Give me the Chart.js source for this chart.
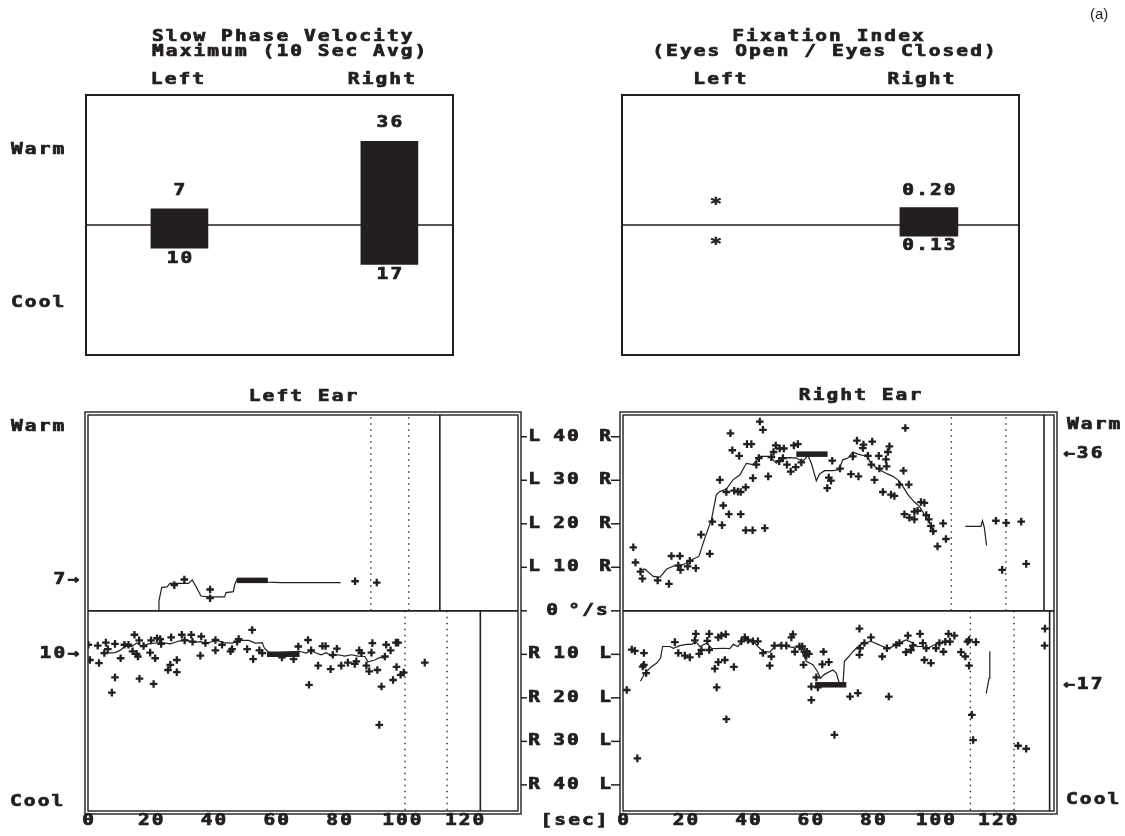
<!DOCTYPE html>
<html><head><meta charset="utf-8">
<script src="https://cdn.jsdelivr.net/npm/chart.js@4.4.1/dist/chart.umd.min.js"></script>
<style>
html,body{margin:0;padding:0;background:#fff;}
#wrap{position:relative;width:1125px;height:836px;overflow:hidden;background:#fff;}
#wrap canvas{position:absolute;left:0;top:0;}
</style></head>
<body><div id="wrap">
<canvas id="c1" width="1125" height="836"></canvas>
<canvas id="c2" width="1125" height="836"></canvas>
<canvas id="c3" width="1125" height="836"></canvas>
<canvas id="c4" width="1125" height="836"></canvas>
</div>
<script>
// ---------- data ----------
const sides = ['Left', 'Right'];
const sidePos = [1, 2];
const spvWarm = [7, 36];
const spvCool = [10, 17];
const fiWarm = [null, 0.20];
const fiCool = [null, 0.13];

const yTickVals = [40, 30, 20, 10];
const xTickVals = [0, 20, 40, 60, 80, 100, 120];

// Left ear, warm (positive)
const lwLineT = [22.4, 22.6, 23.5, 25.2, 26.1, 29.8, 32.0, 33.2, 34.1, 36.0, 38.3, 43.5, 44.0, 46.3, 46.8, 47.4, 57.3, 61.7, 80.5];
const lwLineV = [0, 2.3, 5.4, 5.5, 6.3, 6.3, 6.3, 7.1, 6.0, 3.4, 3.2, 3.2, 4.2, 4.4, 6.1, 7.1, 6.6, 6.5, 6.5];
const lwPtsT = [27.5, 30.7, 38.9, 38.9, 85.1, 92.0];
const lwPtsV = [5.9, 7.2, 4.9, 2.9, 6.8, 6.5];
const lwMaxSpan = [47.4, 57.3];
const lwMaxVal = 7;
const lwDotted = [90.1, 102.2];
const lwSolid = [112.1];

// Left ear, cool (negative)
const lcLineT = [6.5, 8.6, 10.2, 11.8, 14.0, 15.5, 17.1, 19.3, 21.4, 23.5, 26.2, 28.3, 29.9, 31.5, 33.6, 35.8, 37.4, 39.5, 41.1, 43.2, 45.9, 48.6, 51.2, 53.3, 55.5, 56.2, 57.8, 67.4, 69.5, 71.1, 72.7, 74.3, 75.9, 77.5, 79.7, 81.8, 83.9, 86.0, 88.2, 89.2, 91.4, 93.0, 94.6];
const lcLineV = [-9.7, -9.6, -9.1, -8.1, -8.2, -7.4, -8.1, -7.6, -7.4, -7.3, -7.6, -7.1, -6.8, -6.7, -7.3, -7.1, -7.4, -7.1, -6.8, -7.3, -7.4, -6.8, -6.8, -7.4, -7.3, -8.6, -9.7, -9.3, -9.7, -9.1, -9.7, -10.1, -9.6, -10.4, -10.1, -10.4, -10.1, -10.4, -10.5, -11.7, -11.3, -10.7, -10.9];
const lcPtsT = [0.1, 0.6, 3.1, 3.5, 5.7, 5.2, 6.3, 8.6, 7.6, 8.6, 10.4, 11.6, 12.9, 14.2, 14.8, 15.5, 15.9, 16.3, 16.4, 17.7, 19.8, 20.1, 20.9, 21.4, 22.0, 23.0, 23.3, 25.5, 26.2, 26.5, 28.3, 28.3, 29.9, 30.8, 32.9, 33.3, 35.8, 36.1, 37.4, 40.6, 40.6, 42.7, 45.4, 45.9, 47.5, 48.0, 50.7, 52.3, 52.6,
  54.6, 55.5, 61.8, 65.5, 67.0, 70.1, 70.4, 71.1, 73.3, 74.7, 75.7, 77.3, 79.3, 78.0, 80.7, 82.8, 85.0, 85.5, 86.4, 87.1, 88.7, 89.6, 90.6, 90.3, 92.2, 93.5, 92.8, 94.6, 95.0, 96.4, 98.3, 98.1, 98.8, 97.2, 99.6, 100.6, 107.3];
const lcPtsV = [-7.8, -11.3, -8.0, -12.0, -7.3, -9.7, -8.8, -7.6, -18.8, -15.3, -10.9, -7.8, -7.8, -9.3, -5.5, -9.9, -10.5, -6.8, -15.6, -8.1, -9.6, -6.8, -16.8, -10.9, -6.3, -6.5, -7.6, -13.6, -12.4, -6.1, -14.1, -11.3, -5.5, -6.8, -5.5, -7.1, -10.3, -5.9, -7.4, -9.1, -6.7, -7.8, -9.3, -8.8, -7.1, -6.5, -8.8, -4.4, -11.1,
  -9.1, -9.7, -10.7, -11.1, -8.2, -6.7, -17.0, -9.1, -12.6, -8.1, -8.1, -13.4, -8.7, -10.1, -12.6, -11.9, -12.2, -11.6, -9.1, -9.7, -12.6, -13.9, -7.4, -9.6, -13.6, -17.4, -26.2, -10.5, -7.8, -9.1, -12.9, -7.3, -7.3, -15.9, -14.7, -14.2, -11.9];
const lcMaxSpan = [57.0, 67.4];
const lcMaxVal = -10;
const lcDotted = [101.0, 114.4];
const lcSolid = [125.0];

// Right ear, warm (positive)
const rwLineT = [5.4, 7.0, 9.7, 11.8, 14.0, 16.6, 19.3, 20.9, 22.5, 24.3, 26.2, 28.3, 29.9, 31.0, 33.1, 35.2, 37.4, 39.5, 41.6, 43.8, 47.0, 49.1, 51.2, 53.3, 55.5, 57.6, 59.2, 60.3, 61.9, 62.9, 64.5, 67.2, 69.1, 70.4, 72.0, 73.6, 75.2, 76.8, 78.4, 78.9, 80.5, 82.1, 84.2, 86.4, 88.0, 89.6, 91.2, 93.3, 94.9, 96.5, 98.6, 99.7];
const rwLineV = [9.4, 9.6, 7.9, 7.7, 9.6, 10.4, 10.6, 11.3, 11.9, 12.5, 16.7, 20.9, 26.7, 27.4, 28.0, 30.1, 31.2, 33.9, 33.6, 35.5, 35.5, 33.9, 35.1, 35.2, 35.1, 34.3, 35.7, 33.9, 29.9, 31.4, 32.2, 32.2, 32.4, 34.7, 35.1, 36.5, 36.0, 35.7, 35.9, 34.3, 33.2, 32.4, 31.6, 30.9, 30.1, 28.6, 26.7, 25.0, 24.0, 22.1, 19.8, 17.9];
const rwLine2T = [109.6, 114.6, 115.1, 115.7, 116.4];
const rwLine2V = [19.4, 19.4, 20.7, 19.1, 15.0];
const rwPtsT = [3.3, 4.0, 5.6, 6.2, 11.1, 14.7, 15.5, 18.2, 17.7, 18.4, 20.7, 21.4, 23.3, 25.0, 27.8, 28.6, 31.0, 31.7, 32.1, 33.1, 33.9, 34.4, 35.0, 35.6, 36.8, 37.2, 37.7, 37.7, 39.3, 39.3, 39.7, 41.1, 41.5, 41.6, 42.7, 43.5, 43.8, 44.8, 45.4, 46.5, 47.5, 48.2, 48.9, 50.2, 51.5, 50.0, 51.2, 52.5, 53.7, 55.3, 54.7, 56.0, 57.1,
  67.0, 65.4, 65.9, 66.6, 69.5, 73.0, 75.4, 73.6, 74.9, 76.8, 77.0, 79.8, 78.4, 79.5, 80.5, 81.9, 82.1, 84.2, 84.8, 85.3, 84.4, 83.2, 85.8, 86.9, 89.8, 88.5, 90.4, 91.5, 90.1, 91.7, 93.3, 93.3, 94.3, 95.4, 96.5, 97.1, 97.9, 98.6, 99.3, 102.5, 100.7, 103.4,
  119.4, 121.4, 122.7, 127.5, 129.1];
const rwPtsV = [14.6, 11.1, 9.0, 7.4, 7.0, 6.2, 12.6, 12.6, 10.4, 9.4, 10.2, 11.5, 9.8, 17.5, 13.1, 20.5, 30.1, 19.7, 24.2, 27.3, 22.2, 40.8, 36.9, 27.6, 27.4, 35.6, 27.3, 22.2, 28.4, 18.5, 38.3, 38.3, 18.5, 30.5, 33.6, 35.1, 43.5, 41.6, 19.0, 30.9, 35.3, 36.5, 38.0, 37.3, 37.3, 34.4, 35.1, 33.6, 32.0, 33.0, 38.0, 38.3, 34.1,
  34.5, 28.2, 30.6, 29.9, 32.7, 31.4, 30.9, 35.5, 39.1, 37.4, 38.2, 38.9, 35.6, 33.6, 30.1, 35.6, 32.7, 34.8, 36.5, 37.8, 33.2, 27.3, 26.7, 26.4, 32.2, 29.0, 42.0, 29.0, 22.2, 21.4, 21.0, 22.8, 23.0, 25.0, 24.8, 22.0, 21.0, 19.5, 18.3, 20.1, 14.8, 16.5,
  20.7, 9.4, 20.2, 20.5, 10.8];
const rwMaxSpan = [55.5, 65.5];
const rwMaxVal = 36;
const rwDotted = [105.1, 122.6];
const rwSolid = [134.8];

// Right ear, cool (negative)
const rcLineT = [5.6, 7.0, 9.2, 10.8, 12.0, 12.7, 15.0, 16.1, 18.2, 20.3, 21.9, 23.3, 24.6, 26.9, 28.3, 29.9, 32.1, 34.2, 35.3, 36.8, 38.2, 39.5, 41.1, 42.2, 43.2, 44.8, 47.0, 48.5, 50.2, 52.3, 54.4, 56.5, 58.7, 60.8, 62.4, 63.2, 64.5, 67.2, 68.3, 69.5, 70.4, 70.9, 72.3, 73.6, 75.5, 77.3, 79.4, 81.6, 83.2, 85.1, 86.9, 89.0, 90.6, 92.8, 94.3, 95.9, 97.5, 99.7, 101.8, 103.9];
const rcLineV = [-16.2, -14.3, -12.8, -12.0, -10.9, -8.2, -8.2, -8.6, -8.0, -7.7, -7.7, -7.1, -8.2, -7.4, -8.6, -8.7, -8.6, -8.7, -7.7, -8.2, -6.7, -6.3, -7.1, -7.4, -8.2, -9.3, -9.5, -8.2, -7.7, -8.2, -8.4, -8.2, -11.6, -12.4, -14.1, -15.5, -14.6, -13.6, -14.3, -17.2, -17.4, -11.6, -10.5, -9.4, -8.0, -7.4, -7.0, -7.7, -8.2, -8.6, -8.0, -7.2, -6.7, -7.4, -8.2, -8.2, -8.6, -7.8, -7.4, -6.7];
const rcLine2T = [116.3, 117.2, 117.4, 117.5];
const rcLine2V = [-19.0, -15.5, -12.5, -9.3];
const rcPtsT = [1.2, 2.8, 3.8, 6.7, 6.3, 6.7, 7.4, 4.6, 16.6, 17.7, 19.8, 21.4, 23.3, 23.0, 27.6, 27.0, 27.6, 25.1, 24.4, 29.4, 30.0, 30.5, 30.5, 31.5, 32.9, 32.6, 33.1, 35.5, 37.9, 39.0, 40.0, 41.6, 43.2, 44.8, 47.0, 47.5, 48.5, 50.7, 52.3, 53.9, 54.4, 55.0, 56.5, 58.1, 58.7, 60.3, 60.3, 61.9, 62.4,
  57.4, 58.9, 59.5, 57.8, 63.8, 64.2, 65.9, 72.7, 75.2, 75.7, 75.9, 75.7, 67.7, 77.3, 79.4, 83.0, 85.1, 84.5, 87.5, 88.5, 91.2, 90.6, 92.2, 92.8, 95.1, 96.0, 97.1, 96.5, 98.6, 100.2, 101.3, 102.6, 103.2, 104.2, 104.7, 106.1, 108.2, 109.6, 110.3, 110.8, 113.0, 110.8, 111.7, 112.1,
  135.1, 135.0, 126.5, 129.1];
const rcPtsV = [-18.2, -8.9, -9.2, -9.7, -12.8, -12.4, -14.3, -33.9, -7.2, -9.7, -10.3, -10.7, -5.3, -6.8, -5.3, -6.9, -9.0, -9.0, -9.9, -13.3, -17.6, -11.8, -6.1, -5.7, -5.4, -11.3, -24.9, -12.9, -7.0, -6.1, -6.7, -7.0, -7.0, -9.7, -12.6, -10.5, -8.0, -8.0, -8.0, -6.1, -5.4, -9.4, -8.2, -9.4, -10.3, -17.4, -20.5, -15.3, -17.6,
  -8.2, -9.4, -9.9, -12.4, -12.3, -9.4, -11.8, -19.7, -18.9, -4.1, -8.6, -10.1, -28.5, -7.4, -6.1, -10.5, -19.7, -8.6, -7.8, -7.4, -5.7, -9.5, -9.0, -8.0, -5.3, -7.4, -8.6, -11.3, -12.0, -8.6, -7.4, -9.4, -7.1, -5.3, -7.1, -5.7, -9.5, -10.5, -7.1, -6.7, -7.2, -12.6, -23.9, -29.7,
  -4.1, -8.0, -31.0, -31.7];
const rcMaxSpan = [61.5, 71.5];
const rcMaxVal = -17;
const rcDotted = [111.2, 125.2];
const rcSolid = [136.6];

// ---------- helpers ----------
const INK = '#231f20';
function txt(ctx, s, x, y, align, opts) {
  opts = opts || {};
  ctx.save();
  ctx.font = opts.font || 'bold 15px "DejaVu Sans Mono"';
  const sx = opts.sx || 1.3;
  ctx.letterSpacing = (opts.ls !== undefined ? opts.ls : 1.6) + 'px';
  const w = (ctx.measureText(s).width - (opts.ls !== undefined ? opts.ls : 1.6)) * sx;
  let x0 = x;
  if (align === 'center') x0 = x - w / 2;
  else if (align === 'right') x0 = x - w;
  ctx.translate(x0, y);
  ctx.scale(sx, 1);
  ctx.fillStyle = INK;
  ctx.textAlign = 'left';
  ctx.textBaseline = 'middle';
  ctx.fillText(s, 0, 0);
  if (!opts.light) {
    ctx.strokeStyle = INK; ctx.lineWidth = 0.7;
    ctx.strokeText(s, 0, 0);
  }
  ctx.restore();
}
function pts(T, V) { return T.map((t, i) => ({x: t, y: V[i]})); }

const baseOpts = (pad, xr, yr) => ({
  responsive: false, animation: false, events: [],
  layout: {padding: pad},
  plugins: {legend: {display: false}, tooltip: {enabled: false}},
  scales: {
    x: {type: 'linear', display: false, offset: false, min: xr[0], max: xr[1]},
    y: {type: 'linear', display: false, min: yr[0], max: yr[1]}
  }
});

// ---------- Top-left: Slow phase velocity ----------
new Chart(document.getElementById('c1'), {
  type: 'bar',
  data: {datasets: [{
    data: sidePos.map((p, i) => ({x: p, y: [-spvCool[i], spvWarm[i]]})),
    backgroundColor: INK, barThickness: 57, borderWidth: 0
  }]},
  options: baseOpts({left: 86, top: 95, right: 1125 - 453, bottom: 836 - 355}, [0.555, 2.303], [-56, 56]),
  plugins: [{
    id: 'spv',
    afterDraw(chart) {
      const {ctx, chartArea: a, scales: {x, y}} = chart;
      ctx.save();
      ctx.strokeStyle = INK; ctx.lineWidth = 2;
      ctx.strokeRect(a.left, a.top, a.right - a.left, a.bottom - a.top);
      ctx.lineWidth = 1.5;
      ctx.beginPath(); ctx.moveTo(a.left, y.getPixelForValue(0)); ctx.lineTo(a.right, y.getPixelForValue(0)); ctx.stroke();
      ctx.restore();
      txt(ctx, 'Slow Phase Velocity', 152, 37, 'left');
      txt(ctx, 'Maximum (10 Sec Avg)', 152, 52, 'left');
      sidePos.forEach((p, i) => {
        const px = x.getPixelForValue(p);
        txt(ctx, sides[i], px - (i ? 8 : 2), 80, 'center');
        txt(ctx, String(spvWarm[i]), px, y.getPixelForValue(spvWarm[i]) - 18, 'center');
        txt(ctx, String(spvCool[i]), px, y.getPixelForValue(-spvCool[i]) + 11, 'center');
      });
      txt(ctx, 'Warm', 11, 150, 'left');
      txt(ctx, 'Cool', 11, 303, 'left');
    }
  }]
});

// ---------- Top-right: Fixation index ----------
new Chart(document.getElementById('c2'), {
  type: 'bar',
  data: {datasets: [{
    data: sidePos.map((p, i) => fiWarm[i] === null ? null : ({x: p, y: [-fiCool[i], fiWarm[i]]})).filter(d => d),
    backgroundColor: INK, barThickness: 58, borderWidth: 0
  }]},
  options: baseOpts({left: 622, top: 95, right: 1125 - 1019, bottom: 836 - 355}, [0.559, 2.423], [-1.5, 1.5]),
  plugins: [{
    id: 'fi',
    afterDraw(chart) {
      const {ctx, chartArea: a, scales: {x, y}} = chart;
      ctx.save();
      ctx.strokeStyle = INK; ctx.lineWidth = 2;
      ctx.strokeRect(a.left, a.top, a.right - a.left, a.bottom - a.top);
      ctx.lineWidth = 1.5;
      ctx.beginPath(); ctx.moveTo(a.left, y.getPixelForValue(0)); ctx.lineTo(a.right, y.getPixelForValue(0)); ctx.stroke();
      ctx.restore();
      txt(ctx, 'Fixation Index', 828, 37, 'center');
      txt(ctx, '(Eyes Open / Eyes Closed)', 824, 52, 'center');
      sidePos.forEach((p, i) => {
        const px = x.getPixelForValue(p);
        txt(ctx, sides[i], px + (i ? -8 : 4), 80, 'center');
        if (fiWarm[i] === null) {
          txt(ctx, '*', px, y.getPixelForValue(0) - 20, 'center');
        } else {
          txt(ctx, fiWarm[i].toFixed(2), px, y.getPixelForValue(fiWarm[i]) - 17, 'center');
        }
        if (fiCool[i] === null) {
          txt(ctx, '*', px, y.getPixelForValue(0) + 20, 'center');
        } else {
          txt(ctx, fiCool[i].toFixed(2), px, y.getPixelForValue(-fiCool[i]) + 10, 'center');
        }
      });
      txt(ctx, '(a)', 1090, 15, 'left', {font: '15px "Liberation Sans"', sx: 1, ls: 0, light: true});
    }
  }]
});

// ---------- bottom panels ----------
function earDatasets(w, c) {
  const ds = [];
  const ptStyle = {showLine: false, pointStyle: 'cross', pointRadius: 3.8, borderColor: INK, borderWidth: 2.3, backgroundColor: INK};
  const lnStyle = {showLine: true, pointRadius: 0, borderColor: INK, borderWidth: 1.2, tension: 0, fill: false};
  [w, c].forEach(h => {
    ds.push(Object.assign({data: pts(h.pT, h.pV)}, ptStyle));
    ds.push(Object.assign({data: pts(h.lT, h.lV)}, lnStyle));
    if (h.l2T) ds.push(Object.assign({data: pts(h.l2T, h.l2V)}, lnStyle));
    ds.push(Object.assign({data: pts(h.span, [h.max, h.max])}, lnStyle, {borderWidth: 5.5}));
    h.dotted.forEach(t => ds.push(Object.assign({data: [{x: t, y: 0}, {x: t, y: h.edge}]}, lnStyle, {borderWidth: 1.3, borderDash: [1.5, 4.5]})));
    h.solid.forEach(t => ds.push(Object.assign({data: [{x: t, y: 0}, {x: t, y: h.edge}]}, lnStyle, {borderWidth: 1.6})));
  });
  return ds;
}
function frame(ctx, a, y) {
  ctx.save();
  ctx.strokeStyle = INK; ctx.lineWidth = 1.4;
  ctx.strokeRect(a.left, a.top, a.right - a.left, a.bottom - a.top);
  ctx.strokeRect(a.left - 3, a.top - 3, a.right - a.left + 6, a.bottom - a.top + 6);
  ctx.lineWidth = 1.8;
  ctx.beginPath(); ctx.moveTo(a.left, y.getPixelForValue(0)); ctx.lineTo(a.right, y.getPixelForValue(0)); ctx.stroke();
  ctx.restore();
}
const Y_RANGE = [-46, 45];

new Chart(document.getElementById('c3'), {
  type: 'scatter',
  data: {datasets: earDatasets(
    {pT: lwPtsT, pV: lwPtsV, lT: lwLineT, lV: lwLineV, span: lwMaxSpan, max: lwMaxVal, dotted: lwDotted, solid: lwSolid, edge: Y_RANGE[1]},
    {pT: lcPtsT, pV: lcPtsV, lT: lcLineT, lV: lcLineV, span: lcMaxSpan, max: lcMaxVal, dotted: lcDotted, solid: lcSolid, edge: Y_RANGE[0]}
  )},
  options: baseOpts({left: 88, top: 415, right: 1125 - 518, bottom: 836 - 811}, [0, 137], Y_RANGE),
  plugins: [{
    id: 'leftEar',
    afterDraw(chart) {
      const {ctx, chartArea: a, scales: {x, y}} = chart;
      frame(ctx, a, y);
      txt(ctx, 'Left Ear', 303, 397, 'center');
      txt(ctx, 'Warm', 11, 427, 'left');
      txt(ctx, 'Cool', 10, 802, 'left');
      txt(ctx, lwMaxVal + '\u2192', 79, y.getPixelForValue(lwMaxVal), 'right');
      txt(ctx, (-lcMaxVal) + '\u2192', 79, y.getPixelForValue(lcMaxVal), 'right');
      xTickVals.forEach(t => txt(ctx, String(t), x.getPixelForValue(t), 821, 'center'));
      ctx.save(); ctx.strokeStyle = INK; ctx.lineWidth = 1.5;
      const ys = [0].concat(yTickVals, yTickVals.map(v => -v));
      ys.forEach(v => {
        const py = y.getPixelForValue(v);
        ctx.beginPath(); ctx.moveTo(a.right + 3, py); ctx.lineTo(a.right + 9, py); ctx.stroke();
      });
      ctx.restore();
      yTickVals.forEach(v => {
        const pu = y.getPixelForValue(v), pd = y.getPixelForValue(-v);
        txt(ctx, 'L', 534, pu, 'center'); txt(ctx, String(v), 566, pu, 'center'); txt(ctx, 'R', 605, pu, 'center');
        txt(ctx, 'R', 534, pd, 'center'); txt(ctx, String(v), 566, pd, 'center'); txt(ctx, 'L', 605, pd, 'center');
      });
      txt(ctx, '0', 552, y.getPixelForValue(0), 'center');
      txt(ctx, '\u00b0/s', 588, y.getPixelForValue(0), 'center');
      txt(ctx, '[sec]', 574, 821, 'center');
    }
  }]
});

new Chart(document.getElementById('c4'), {
  type: 'scatter',
  data: {datasets: earDatasets(
    {pT: rwPtsT, pV: rwPtsV, lT: rwLineT, lV: rwLineV, l2T: rwLine2T, l2V: rwLine2V, span: rwMaxSpan, max: rwMaxVal, dotted: rwDotted, solid: rwSolid, edge: Y_RANGE[1]},
    {pT: rcPtsT, pV: rcPtsV, lT: rcLineT, lV: rcLineV, l2T: rcLine2T, l2V: rcLine2V, span: rcMaxSpan, max: rcMaxVal, dotted: rcDotted, solid: rcSolid, edge: Y_RANGE[0]}
  )},
  options: baseOpts({left: 623, top: 415, right: 1125 - 1054, bottom: 836 - 811}, [0, 138], Y_RANGE),
  plugins: [{
    id: 'rightEar',
    afterDraw(chart) {
      const {ctx, chartArea: a, scales: {x, y}} = chart;
      frame(ctx, a, y);
      txt(ctx, 'Right Ear', 860, 396, 'center');
      txt(ctx, 'Warm', 1067, 425, 'left');
      txt(ctx, 'Cool', 1066, 800, 'left');
      txt(ctx, '\u2190' + rwMaxVal, 1063, y.getPixelForValue(rwMaxVal), 'left');
      txt(ctx, '\u2190' + (-rcMaxVal), 1063, y.getPixelForValue(rcMaxVal), 'left');
      xTickVals.forEach(t => txt(ctx, String(t), x.getPixelForValue(t), 821, 'center'));
      ctx.save(); ctx.strokeStyle = INK; ctx.lineWidth = 1.5;
      const ys = [0].concat(yTickVals, yTickVals.map(v => -v));
      ys.forEach(v => {
        const py = y.getPixelForValue(v);
        ctx.beginPath(); ctx.moveTo(a.left - 12, py); ctx.lineTo(a.left - 3, py); ctx.stroke();
      });
      ctx.restore();
    }
  }]
});
</script>
</body></html>
